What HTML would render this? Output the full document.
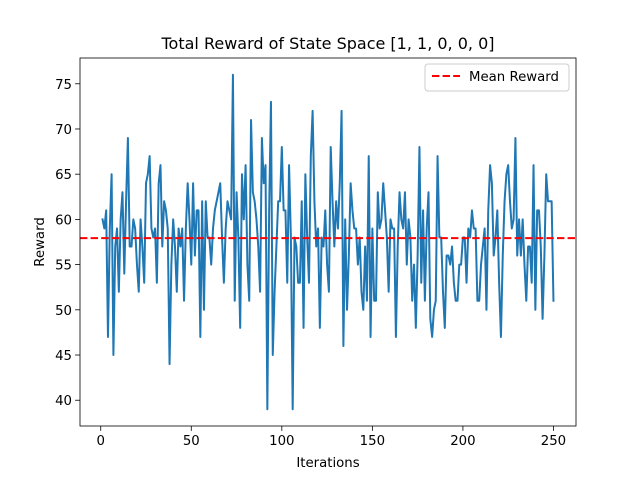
<!DOCTYPE html>
<html><head><meta charset="utf-8"><style>
html,body{margin:0;padding:0;background:#fff}
svg text{font-family:"DejaVu Sans","Liberation Sans",sans-serif;fill:#000}
</style></head><body>
<svg id="chart" width="640" height="480" viewBox="0 0 640 480" xmlns="http://www.w3.org/2000/svg">
<rect width="640" height="480" fill="#fff"/>
<text x="328" y="49" font-size="16" text-anchor="middle">Total Reward of State Space [1, 1, 0, 0, 0]</text>
<g id="plot"></g>
<text x="328" y="467" font-size="13.3" text-anchor="middle">Iterations</text>
<text x="0" y="0" font-size="13.3" text-anchor="middle" transform="translate(44,242) rotate(-90)">Reward</text>
<g>
<rect x="425" y="64" width="144" height="27" rx="3" fill="#fff" fill-opacity="0.8" stroke="#ccc"/>
<line x1="432" y1="76" x2="460" y2="76" stroke="#ff0000" stroke-width="2" stroke-dasharray="7.4,3.2"/>
<text x="469" y="81" font-size="13.3">Mean Reward</text>
</g>
</svg>
<script>
const rewards = [60,59,61,47,59,65,45,57,59,52,60,63,54,62,69,57,57,60,59,55,52,60,57,53,64,65,67,59,58,59,53,64,66,57,62,61,59,44,55,60,57,52,59,57,59,51,59,64,60,55,64,
56,61,61,47,62,50,62,58,58,55,59,61,62,63,64,58,53,59,62,61,60,76,51,63,58,48,65,60,66,55,51,71,63,62,60,57,52,69,64,66,39,61,73,45,52,57,62,62,68,61,61,53,
66,58,39,58,57,53,53,62,48,65,58,53,67,72,62,57,59,48,58,57,61,55,52,68,62,57,62,59,64,72,46,60,50,56,64,61,59,59,55,58,52,50,57,51,67,47,59,51,51,63,59,60,64,
61,58,52,60,59,59,47,57,63,60,59,63,55,60,58,51,55,48,56,68,53,61,51,59,63,49,47,50,51,67,58,58,52,48,56,56,55,57,53,51,51,55,55,58,58,53,59,58,61,59,59,
51,51,55,57,59,50,61,66,64,56,58,61,53,47,56,62,65,66,62,59,60,69,56,60,56,60,55,51,57,57,53,66,50,61,61,57,49,56,65,62,62,62,51];
const xTicks = [0,50,100,150,200,250];
const yTicks = [40,45,50,55,60,65,70,75];

const L=80,R=576,T=58,B=426;
const n=rewards.length;
const xmin=1-(n-1)*0.05, xmax=n+(n-1)*0.05;
let ymn=Math.min(...rewards), ymx=Math.max(...rewards);
const ymin=ymn-(ymx-ymn)*0.05, ymax=ymx+(ymx-ymn)*0.05;
const sx=v=>L+(v-xmin)/(xmax-xmin)*(R-L);
const sy=v=>B-(v-ymin)/(ymax-ymin)*(B-T);
const NS="http://www.w3.org/2000/svg";
const g=document.getElementById('plot');
function mk(tag,attrs,parent){const e=document.createElementNS(NS,tag);for(const k in attrs)e.setAttribute(k,attrs[k]);(parent||g).appendChild(e);return e;}

xTicks.forEach(t=>{
  const x=sx(t);
  const tk=mk('line',{x1:x,y1:B,x2:x,y2:B+4.9,stroke:'#000','stroke-width':0.8});
  
  
  const tl=mk('text',{x:x,y:B+19,'font-size':13.3,'text-anchor':'middle'});
  tl.textContent=t;
  
  
});
yTicks.forEach(t=>{
  const y=sy(t);
  const tk=mk('line',{x1:L-4.9,y1:y,x2:L,y2:y,stroke:'#000','stroke-width':0.8});
  
  
  const tl=mk('text',{x:L-8,y:y+5,'font-size':13.3,'text-anchor':'end'});
  tl.textContent=t;
  
  
});

const pts=rewards.map((v,i)=>sx(i+1).toFixed(2)+','+sy(v).toFixed(2)).join(' ');
const line=mk('polyline',{points:pts,fill:'none',stroke:'#1f77b4','stroke-width':2,'stroke-linejoin':'round','stroke-linecap':'square'});



const mean=rewards.reduce((a,b)=>a+b,0)/n;
const ml=mk('line',{x1:L,x2:R,y1:sy(mean),y2:sy(mean),stroke:'#ff0000','stroke-width':2,'stroke-dasharray':'7.4,3.2'});



const fr=mk('rect',{x:L,y:T,width:R-L,height:B-T,fill:'none',stroke:'#000','stroke-width':0.8});


</script>
</body></html>
